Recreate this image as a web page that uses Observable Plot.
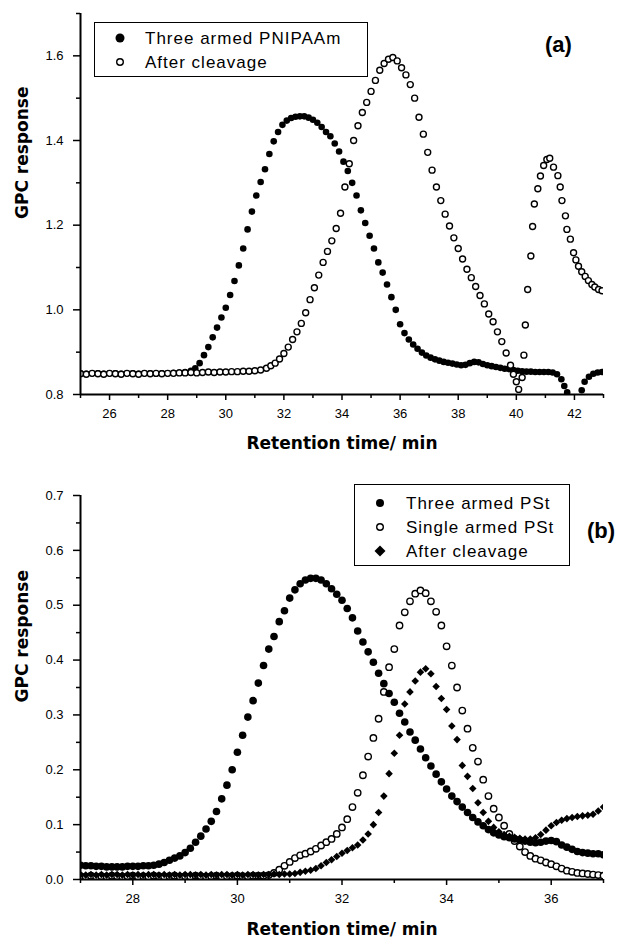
<!DOCTYPE html>
<html><head><meta charset="utf-8">
<script src="https://cdn.jsdelivr.net/npm/d3@7"></script>
<script src="https://cdn.jsdelivr.net/npm/@observablehq/plot@0.6"></script>
<style>
body{margin:0;background:#fff;}
#wrap{position:relative;width:620px;height:939px;font-family:"Liberation Sans",Arial,sans-serif;color:#000;overflow:hidden;}
.panel{position:absolute;left:0;}
.legend{position:absolute;border:1.5px solid #000;background:#fff;box-sizing:border-box;}
.item{position:absolute;font-size:17px;letter-spacing:1px;line-height:20px;white-space:nowrap;}
.mk{position:absolute;overflow:visible;}
.tag{position:absolute;font-weight:bold;font-size:22px;line-height:26px;}
</style></head>
<body>
<div id="wrap">
  <div id="pa" class="panel" style="top:0px"></div>
  <div id="pb" class="panel" style="top:460px"></div>
</div>
<script>
// ---------- Panel (a) data ----------
const xLabel = "Retention time/ min";
const yLabel = "GPC response";
const aNames = ["Three armed PNIPAAm", "After cleavage"];
const aTag = "(a)";
const xDomainA = [25, 43];
const yDomainA = [0.8, 1.7];
const xTicksA = [26, 28, 30, 32, 34, 36, 38, 40, 42];
const xMinorA = [25, 27, 29, 31, 33, 35, 37, 39, 41, 43];
const yTicksA = [0.8, 1.0, 1.2, 1.4, 1.6];
const yMinorA = [0.9, 1.1, 1.3, 1.5, 1.7];

const aThreeArmed = [
  [25.0,0.85],[25.2,0.849],[25.4,0.85],[25.6,0.85],[25.8,0.849],[26.0,0.85],[26.2,0.85],[26.4,0.849],
  [26.6,0.85],[26.8,0.85],[27.0,0.849],[27.2,0.85],[27.4,0.85],[27.6,0.849],[27.8,0.85],[28.0,0.85],
  [28.2,0.851],[28.4,0.852],[28.6,0.853],[28.8,0.856],[28.95,0.862],[29.1,0.874],[29.25,0.893],
  [29.4,0.912],[29.55,0.935],[29.7,0.958],[29.85,0.982],[30.0,1.005],[30.15,1.035],[30.3,1.068],
  [30.45,1.105],[30.6,1.145],[30.75,1.19],[30.9,1.232],[31.05,1.27],[31.2,1.302],[31.35,1.332],
  [31.5,1.368],[31.65,1.398],[31.8,1.42],[31.95,1.437],[32.1,1.447],[32.25,1.453],[32.4,1.456],
  [32.55,1.457],[32.7,1.457],[32.85,1.454],[33.0,1.449],[33.15,1.442],[33.3,1.432],[33.45,1.42],
  [33.6,1.41],[33.75,1.393],[33.9,1.374],[34.05,1.35],[34.2,1.328],[34.35,1.3],[34.5,1.27],
  [34.65,1.235],[34.8,1.205],[34.95,1.175],[35.1,1.145],[35.25,1.112],[35.4,1.088],[35.55,1.06],
  [35.7,1.03],[35.85,1.0],[36.0,0.966],[36.15,0.945],[36.3,0.93],[36.45,0.918],[36.6,0.908],
  [36.75,0.899],[36.9,0.892],[37.05,0.887],[37.2,0.883],[37.35,0.88],[37.5,0.877],[37.65,0.875],
  [37.8,0.873],[37.95,0.871],[38.1,0.869],[38.25,0.87],[38.4,0.874],[38.55,0.877],[38.7,0.876],
  [38.85,0.872],[39.0,0.869],[39.15,0.867],[39.3,0.865],[39.45,0.863],[39.6,0.861],[39.75,0.86],
  [39.9,0.858],[40.05,0.856],[40.2,0.855],[40.35,0.854],[40.5,0.854],[40.65,0.853],[40.8,0.853],
  [40.95,0.853],[41.1,0.853],[41.25,0.852],[41.4,0.848],[41.55,0.836],[41.65,0.82],[41.75,0.805],
  [42.25,0.81],[42.35,0.83],[42.5,0.842],[42.65,0.849],[42.8,0.852],[42.95,0.853]
];
const aAfterCleavage = [
  [25.0,0.849],[25.2,0.848],[25.4,0.85],[25.6,0.849],[25.8,0.848],[26.0,0.85],[26.2,0.849],[26.4,0.848],
  [26.6,0.85],[26.8,0.849],[27.0,0.848],[27.2,0.85],[27.4,0.849],[27.6,0.85],[27.8,0.849],[28.0,0.85],
  [28.2,0.85],[28.4,0.851],[28.6,0.851],[28.8,0.852],[29.0,0.851],[29.2,0.852],[29.4,0.853],[29.6,0.852],
  [29.8,0.853],[30.0,0.853],[30.2,0.854],[30.4,0.854],[30.6,0.855],[30.8,0.855],[31.0,0.856],[31.2,0.858],
  [31.4,0.862],[31.55,0.868],[31.7,0.874],[31.85,0.884],[32.0,0.897],[32.15,0.912],[32.3,0.93],
  [32.45,0.948],[32.6,0.968],[32.75,0.993],[32.9,1.024],[33.05,1.052],[33.2,1.082],[33.35,1.112],
  [33.5,1.138],[33.65,1.163],[33.8,1.192],[33.95,1.228],[34.1,1.29],[34.25,1.345],[34.4,1.4],
  [34.55,1.435],[34.7,1.466],[34.85,1.49],[35.0,1.516],[35.15,1.542],[35.3,1.566],[35.45,1.582],
  [35.6,1.592],[35.75,1.596],[35.9,1.588],[36.05,1.572],[36.2,1.555],[36.35,1.532],[36.5,1.5],
  [36.65,1.455],[36.8,1.415],[36.95,1.372],[37.1,1.33],[37.25,1.29],[37.4,1.258],[37.55,1.226],
  [37.7,1.198],[37.85,1.17],[38.0,1.145],[38.15,1.12],[38.3,1.096],[38.45,1.076],[38.6,1.055],
  [38.75,1.034],[38.9,1.014],[39.05,0.99],[39.2,0.972],[39.35,0.948],[39.5,0.925],[39.65,0.898],
  [39.8,0.869],[39.9,0.848],[40.0,0.83],[40.08,0.812],[40.2,0.84],[40.26,0.893],[40.31,0.964],
  [40.39,1.048],[40.5,1.127],[40.56,1.197],[40.62,1.25],[40.74,1.286],[40.83,1.316],[40.94,1.341],
  [41.05,1.355],[41.15,1.358],[41.28,1.337],[41.43,1.317],[41.51,1.29],[41.57,1.258],[41.69,1.222],
  [41.74,1.19],[41.86,1.167],[41.97,1.135],[42.05,1.118],[42.14,1.103],[42.25,1.09],[42.37,1.079],
  [42.48,1.069],[42.6,1.06],[42.7,1.054],[42.83,1.048],[42.95,1.045]
];

// ---------- Panel (b) data ----------
const bNames = ["Three armed PSt", "Single armed PSt", "After cleavage"];
const bTag = "(b)";
const xDomainB = [27, 37];
const yDomainB = [0, 0.7];
const xTicksB = [28, 30, 32, 34, 36];
const xMinorB = [27, 29, 31, 33, 35, 37];
const yTicksB = [0.0, 0.1, 0.2, 0.3, 0.4, 0.5, 0.6, 0.7];
const yMinorB = [0.05, 0.15, 0.25, 0.35, 0.45, 0.55, 0.65];

const bThreeArmed = [
  [27.0,0.026],[27.1,0.025],[27.2,0.025],[27.3,0.024],[27.4,0.024],[27.5,0.023],[27.6,0.023],[27.7,0.023],
  [27.8,0.023],[27.9,0.024],[28.0,0.024],[28.1,0.024],[28.2,0.025],[28.3,0.025],[28.4,0.026],[28.5,0.028],
  [28.6,0.031],[28.7,0.035],[28.8,0.039],[28.9,0.043],[29.0,0.049],[29.1,0.057],[29.2,0.068],[29.3,0.079],
  [29.4,0.092],[29.5,0.106],[29.6,0.124],[29.7,0.147],[29.8,0.172],[29.9,0.2],[30.0,0.232],[30.1,0.263],
  [30.2,0.296],[30.3,0.326],[30.4,0.358],[30.5,0.39],[30.6,0.42],[30.7,0.443],[30.8,0.47],[30.9,0.49],
  [31.0,0.513],[31.1,0.528],[31.2,0.539],[31.3,0.546],[31.4,0.549],[31.5,0.549],[31.6,0.546],[31.7,0.539],
  [31.8,0.53],[31.9,0.52],[32.0,0.509],[32.1,0.494],[32.2,0.477],[32.3,0.453],[32.4,0.433],[32.5,0.415],
  [32.6,0.396],[32.7,0.376],[32.8,0.357],[32.9,0.339],[33.0,0.323],[33.1,0.303],[33.2,0.287],[33.3,0.269],
  [33.4,0.254],[33.5,0.238],[33.6,0.222],[33.7,0.207],[33.8,0.192],[33.9,0.178],[34.0,0.165],[34.1,0.152],
  [34.2,0.142],[34.3,0.132],[34.4,0.122],[34.5,0.113],[34.6,0.105],[34.7,0.098],[34.8,0.091],[34.9,0.085],
  [35.0,0.081],[35.1,0.078],[35.2,0.076],[35.3,0.074],[35.4,0.072],[35.5,0.07],[35.6,0.068],[35.7,0.067],
  [35.8,0.068],[35.9,0.07],[36.0,0.071],[36.1,0.069],[36.2,0.063],[36.3,0.059],[36.4,0.055],[36.5,0.051],
  [36.6,0.049],[36.7,0.048],[36.8,0.047],[36.9,0.047],[37.0,0.045]
];
const bSingleArmed = [
  [27.0,0.006],[27.1,0.005],[27.2,0.007],[27.3,0.005],[27.4,0.006],[27.5,0.005],[27.6,0.007],[27.7,0.006],
  [27.8,0.005],[27.9,0.006],[28.0,0.007],[28.1,0.005],[28.2,0.006],[28.3,0.005],[28.4,0.007],[28.5,0.006],
  [28.6,0.005],[28.7,0.006],[28.8,0.007],[28.9,0.005],[29.0,0.006],[29.1,0.005],[29.2,0.007],[29.3,0.006],
  [29.4,0.005],[29.5,0.006],[29.6,0.007],[29.7,0.005],[29.8,0.006],[29.9,0.006],[30.0,0.007],[30.1,0.006],
  [30.2,0.006],[30.3,0.007],[30.4,0.007],[30.5,0.007],[30.6,0.008],[30.7,0.012],[30.8,0.018],[30.9,0.025],
  [31.0,0.032],[31.1,0.039],[31.2,0.044],[31.3,0.047],[31.4,0.051],[31.5,0.056],[31.6,0.062],[31.7,0.068],
  [31.8,0.074],[31.9,0.083],[32.0,0.095],[32.1,0.11],[32.2,0.132],[32.3,0.158],[32.4,0.19],[32.5,0.224],
  [32.6,0.258],[32.7,0.293],[32.8,0.342],[32.9,0.387],[33.0,0.42],[33.1,0.463],[33.2,0.487],[33.3,0.507],
  [33.4,0.521],[33.5,0.527],[33.6,0.522],[33.7,0.507],[33.8,0.488],[33.9,0.463],[34.0,0.425],[34.1,0.39],
  [34.2,0.35],[34.3,0.308],[34.4,0.275],[34.5,0.24],[34.6,0.215],[34.7,0.182],[34.8,0.152],[34.9,0.129],
  [35.0,0.113],[35.1,0.098],[35.2,0.083],[35.3,0.07],[35.4,0.06],[35.5,0.05],[35.6,0.043],[35.7,0.038],
  [35.8,0.035],[35.9,0.031],[36.0,0.028],[36.1,0.024],[36.2,0.02],[36.3,0.016],[36.4,0.014],[36.5,0.012],
  [36.6,0.011],[36.7,0.01],[36.8,0.009],[36.9,0.008],[37.0,0.007]
];
const bAfterCleavage = [
  [27.0,0.009],[27.1,0.008],[27.2,0.009],[27.3,0.008],[27.4,0.009],[27.5,0.008],[27.6,0.009],[27.7,0.009],
  [27.8,0.008],[27.9,0.009],[28.0,0.008],[28.1,0.009],[28.2,0.008],[28.3,0.009],[28.4,0.009],[28.5,0.008],
  [28.6,0.009],[28.7,0.008],[28.8,0.009],[28.9,0.008],[29.0,0.009],[29.1,0.009],[29.2,0.008],[29.3,0.009],
  [29.4,0.008],[29.5,0.009],[29.6,0.008],[29.7,0.009],[29.8,0.009],[29.9,0.008],[30.0,0.009],[30.1,0.008],
  [30.2,0.009],[30.3,0.009],[30.4,0.008],[30.5,0.009],[30.6,0.009],[30.7,0.01],[30.8,0.009],[30.9,0.01],
  [31.0,0.01],[31.1,0.011],[31.2,0.013],[31.3,0.015],[31.4,0.017],[31.5,0.02],[31.6,0.025],[31.7,0.031],
  [31.8,0.036],[31.9,0.042],[32.0,0.048],[32.1,0.053],[32.2,0.058],[32.3,0.063],[32.4,0.072],[32.5,0.083],
  [32.6,0.1],[32.7,0.122],[32.8,0.152],[32.9,0.193],[33.0,0.23],[33.1,0.263],[33.2,0.32],[33.3,0.342],
  [33.4,0.362],[33.5,0.378],[33.6,0.384],[33.7,0.375],[33.8,0.352],[33.9,0.33],[34.0,0.31],[34.1,0.28],
  [34.2,0.255],[34.3,0.208],[34.4,0.188],[34.5,0.166],[34.6,0.14],[34.7,0.122],[34.8,0.106],[34.9,0.095],
  [35.0,0.087],[35.1,0.082],[35.2,0.079],[35.3,0.077],[35.4,0.075],[35.5,0.074],[35.6,0.074],[35.7,0.076],
  [35.8,0.082],[35.9,0.09],[36.0,0.098],[36.1,0.104],[36.2,0.108],[36.3,0.111],[36.4,0.113],[36.5,0.115],
  [36.6,0.116],[36.7,0.117],[36.8,0.119],[36.9,0.125],[37.0,0.132]
];

// ---------- drawing ----------
const FONT = "Liberation Sans, Arial, sans-serif";
const LABEL_FONT = "DejaVu Sans, Verdana, sans-serif";
const fmt1 = d3.format(".1f");
const diamondSym = d3.symbolDiamond2 || "diamond";

function axesMarks(xDom, yDom, xMaj, xMin, yMaj, yMin, xLabelDy) {
  return [
    Plot.axisX({ticks: xMin, tickSize: 4, tickFormat: () => "", strokeWidth: 1.5, label: null}),
    Plot.axisX({ticks: xMaj, tickSize: 6, tickPadding: 8, tickFormat: d => String(d), fontSize: 13, strokeWidth: 1.5, label: null}),
    Plot.axisY({ticks: yMin, tickSize: 4, tickFormat: () => "", strokeWidth: 1.5, label: null}),
    Plot.axisY({ticks: yMaj, tickSize: 7, tickPadding: 10, tickFormat: fmt1, fontSize: 13, strokeWidth: 1.5, label: null}),
    Plot.ruleY([yDom[0]], {strokeWidth: 2}),
    Plot.ruleX([xDom[0]], {strokeWidth: 2}),
    Plot.text([xLabel], {text: d => d, frameAnchor: "bottom", dy: xLabelDy, fontSize: 17, fontWeight: "bold", fontFamily: LABEL_FONT}),
    Plot.text([yLabel], {text: d => d, frameAnchor: "left", rotate: -90, dx: -58, dy: 15, fontSize: 17, fontWeight: "bold", fontFamily: LABEL_FONT})
  ];
}

const chartA = Plot.plot({
  width: 620, height: 460,
  marginLeft: 80, marginRight: 17, marginTop: 13, marginBottom: 66,
  x: {domain: xDomainA, axis: null},
  y: {domain: yDomainA, axis: null},
  style: {fontFamily: FONT, fontSize: "13px", color: "#000", background: "#fff", overflow: "visible"},
  marks: [
    Plot.dot(aThreeArmed, {x: d => d[0], y: d => d[1], r: 3.3, fill: "#000", clip: true}),
    Plot.dot(aAfterCleavage, {x: d => d[0], y: d => d[1], r: 3, fill: "#fff", stroke: "#000", strokeWidth: 1.4, clip: true}),
    ...axesMarks(xDomainA, yDomainA, xTicksA, xMinorA, yTicksA, yMinorA, 54)
  ]
});
document.getElementById("pa").appendChild(chartA);

const chartB = Plot.plot({
  width: 620, height: 479,
  marginLeft: 80, marginRight: 17, marginTop: 35, marginBottom: 60,
  x: {domain: xDomainB, axis: null},
  y: {domain: yDomainB, axis: null},
  style: {fontFamily: FONT, fontSize: "13px", color: "#000", background: "#fff", overflow: "visible"},
  marks: [
    Plot.dot(bSingleArmed, {x: d => d[0], y: d => d[1], r: 3.2, fill: "#fff", stroke: "#000", strokeWidth: 1.4, clip: true}),
    Plot.dot(bThreeArmed, {x: d => d[0], y: d => d[1], r: 3.8, fill: "#000", clip: true}),
    Plot.dot(bAfterCleavage, {x: d => d[0], y: d => d[1], r: 3.4, symbol: diamondSym, fill: "#000", clip: true}),
    ...axesMarks(xDomainB, yDomainB, xTicksB, xMinorB, yTicksB, yMinorB, 55)
  ]
});
document.getElementById("pb").appendChild(chartB);

// ---------- legends (HTML overlays) ----------
const wrap = document.getElementById("wrap");
function markerSvg(kind) {
  const ns = "http://www.w3.org/2000/svg";
  const s = document.createElementNS(ns, "svg");
  s.setAttribute("width", 14); s.setAttribute("height", 14);
  s.setAttribute("viewBox", "-7 -7 14 14");
  s.setAttribute("class", "mk");
  let el;
  if (kind === "filled") { el = document.createElementNS(ns, "circle"); el.setAttribute("r", 4.5); el.setAttribute("fill", "#000"); }
  else if (kind === "filledS") { el = document.createElementNS(ns, "circle"); el.setAttribute("r", 4); el.setAttribute("fill", "#000"); }
  else if (kind === "open") { el = document.createElementNS(ns, "circle"); el.setAttribute("r", 3.3); el.setAttribute("fill", "#fff"); el.setAttribute("stroke", "#000"); el.setAttribute("stroke-width", 1.4); }
  else { el = document.createElementNS(ns, "path"); el.setAttribute("d", "M0,-5.5L5.5,0L0,5.5L-5.5,0Z"); el.setAttribute("fill", "#000"); }
  s.appendChild(el);
  return s;
}
function addLegend(box, items) {
  const b = document.createElement("div");
  b.className = "legend";
  Object.assign(b.style, {left: box.left + "px", top: box.top + "px", width: box.width + "px", height: box.height + "px"});
  wrap.appendChild(b);
  items.forEach(it => {
    const m = markerSvg(it.kind);
    m.style.left = (it.mx - 7) + "px"; m.style.top = (it.y - 7) + "px";
    wrap.appendChild(m);
    const t = document.createElement("div");
    t.className = "item"; t.textContent = it.name;
    t.style.left = it.tx + "px"; t.style.top = (it.y - 10 + 1) + "px";
    wrap.appendChild(t);
  });
}
addLegend({left: 94, top: 22, width: 274, height: 55}, [
  {name: aNames[0], kind: "filled", mx: 120, tx: 145, y: 38},
  {name: aNames[1], kind: "open", mx: 120, tx: 145, y: 62}
]);
addLegend({left: 354, top: 484, width: 216, height: 82}, [
  {name: bNames[0], kind: "filledS", mx: 380, tx: 406, y: 503},
  {name: bNames[1], kind: "open", mx: 380, tx: 406, y: 527},
  {name: bNames[2], kind: "diamond", mx: 380, tx: 406, y: 551}
]);
function addTag(text, cx, cy) {
  const t = document.createElement("div");
  t.className = "tag"; t.textContent = text;
  t.style.left = (cx - 16) + "px"; t.style.top = (cy - 13) + "px";
  wrap.appendChild(t);
}
addTag(aTag, 561, 45);
addTag(bTag, 603, 531);
</script>
</body></html>
